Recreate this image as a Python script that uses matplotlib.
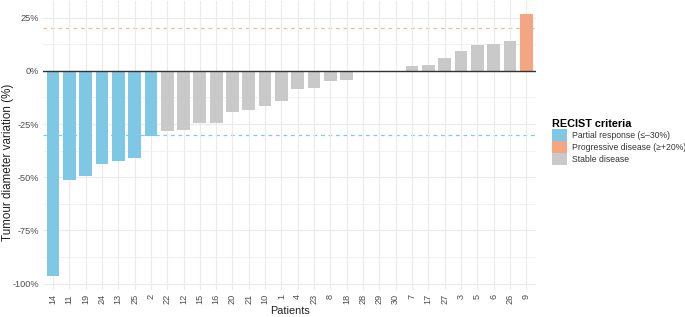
import matplotlib.pyplot as plt
from matplotlib.patches import Patch
from matplotlib.ticker import FuncFormatter, MultipleLocator
import numpy as np

plt.rcParams["font.family"] = ["Liberation Sans", "DejaVu Sans"]

patients = ["14", "11", "19", "24", "13", "25", "2", "22", "12", "15", "16", "20",
            "21", "10", "1", "4", "23", "8", "18", "28", "29", "30", "7", "17",
            "27", "3", "5", "6", "26", "9"]
variation = [-96.6, -51.5, -49.3, -44.0, -42.3, -41.0, -30.8, -28.5, -28.0, -24.6,
             -24.6, -19.4, -18.3, -16.4, -14.4, -8.6, -8.0, -5.0, -4.4, 0.0, 0.0,
             0.0, 2.3, 2.7, 6.1, 9.4, 12.3, 12.8, 14.2, 26.6]
categories = ["Partial response (\u2264\u201330%)", "Progressive disease (\u2265+20%)",
              "Stable disease"]
cat_colors = ["#7EC8E6", "#F4A582", "#C9C9C9"]


def classify(v):
    if v <= -30:
        return 0
    if v >= 20:
        return 1
    return 2


colors = [cat_colors[classify(v)] for v in variation]
x = np.arange(len(patients))

fig = plt.figure(figsize=(6.85, 3.17), dpi=100)
ax = fig.add_axes([0.063, 0.085, 0.7195, 0.912])

grid_c = "#EBEBEB"
ax.yaxis.set_major_locator(MultipleLocator(25))
ax.yaxis.set_minor_locator(MultipleLocator(12.5))
ax.grid(True, which="major", color=grid_c, linewidth=0.8, zorder=0)
ax.grid(True, which="minor", axis="y", color=grid_c, linewidth=0.5, zorder=0)

ax.axhline(20, color="#F7B79B", linestyle=(0, (3, 3)), linewidth=0.9, zorder=1)
ax.axhline(-30, color="#7CCBEC", linestyle=(0, (3, 3)), linewidth=0.9, zorder=1)
ax.bar(x, variation, width=0.78, color=colors, zorder=2)
ax.axhline(0, color="#333333", linewidth=1.0, zorder=3)

ax.set_xlim(-0.6, len(patients) - 0.4)
ax.set_ylim(-103, 32.8)
ax.set_xticks(x)
ax.set_xticklabels(patients, rotation=90)
ax.yaxis.set_major_formatter(FuncFormatter(lambda v, p: f"{int(v)}%"))
ax.tick_params(axis="both", which="both", length=0, labelsize=6.6,
               labelcolor="#4D4D4D", pad=3)
for s in ax.spines.values():
    s.set_visible(False)

ax.set_xlabel("Patients", fontsize=7.8, color="#222222", labelpad=1)
fig.text(8 / 685, 1 - 162 / 317, "Tumour diameter variation (%)", rotation=90,
         ha="center", va="center", fontsize=8.4, color="#222222")

handles = [Patch(facecolor=c, edgecolor="none") for c in cat_colors]
leg = fig.legend(handles, categories, title="RECIST criteria", loc="upper left",
                 bbox_to_anchor=(548 / 685, 1 - 115 / 317), frameon=False,
                 fontsize=6.2, borderpad=0,
                 title_fontproperties={"weight": "bold", "size": 7.8},
                 handlelength=1.65, handleheight=1.75, handletextpad=0.6,
                 labelspacing=0.0, alignment="left")
for t in leg.get_texts():
    t.set_color("#333333")

fig.savefig("out.png", dpi=100)
